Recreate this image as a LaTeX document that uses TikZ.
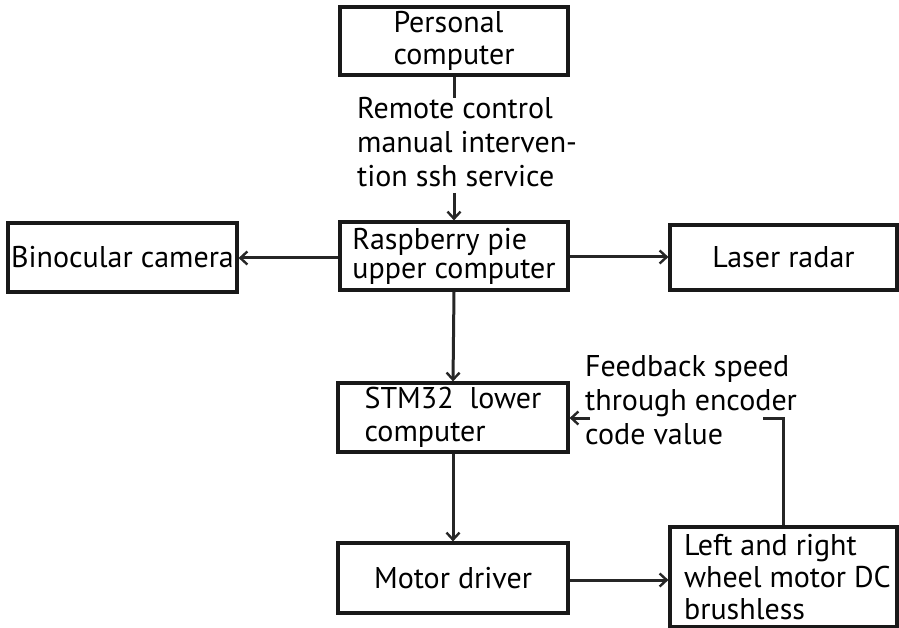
\documentclass[tikz,border=0pt]{standalone}
\usepackage{fontspec}
\setmainfont{PT Sans}
\usetikzlibrary{arrows.meta}
\begin{document}
\begin{tikzpicture}[x=1pt,y=-1pt,
  box/.style={draw=black!90, line width=3.2pt, rectangle, inner sep=0pt, align=left,
    font=\fontsize{30}{32}\selectfont, text=black},
  lbl/.style={inner sep=0pt, align=left, anchor=north west,
    font=\fontsize{30}{34}\selectfont, text=black},
  conn/.style={draw=black!85, line width=3pt},
  arr/.style={conn, -{Straight Barb[length=7pt,width=13pt,line width=2.4pt]}}]
\useasboundingbox (0,0) rectangle (899,628);
\fill[white] (0,0) rectangle (899,628);
% boxes
\node[box, minimum width=228pt, minimum height=68pt] (pc) at (454,41) {Personal\\computer};
\node[box, minimum width=228pt, minimum height=68pt, font=\fontsize{30}{29}\selectfont] (rpi) at (454,256) {Raspberry pie\\upper computer};
\node[box, minimum width=229pt, minimum height=69pt] (cam) at (122.5,257.5) {Binocular camera};
\node[box, minimum width=227pt, minimum height=65pt] (laser) at (783.5,257.5) {Laser radar};
\node[box, minimum width=230pt, minimum height=69pt, font=\fontsize{30}{33}\selectfont] (stm) at (453,417.5) {STM32\ \ lower\\computer};
\node[box, minimum width=230pt, minimum height=70pt] (md) at (453,578) {Motor driver};
\node[box, minimum width=227pt, minimum height=100pt] (lr) at (783.5,577) {\hspace*{8pt}Left and right\\\hspace*{8pt}wheel motor DC\\\hspace*{8pt}brushless};
% labels
\node[lbl] (remote) at (357,97) {Remote control\\manual interven-\\tion ssh service};
\node[lbl] (fb) at (585,355) {Feedback speed\\through encoder\\code value};
% coordinates for interrupted connectors
\coordinate (pcend) at (pc.south |- 0,98);
\coordinate (rpistart) at (rpi.north |- 0,193);
\coordinate (fbcorner) at (lr.north |- 0,418);
\coordinate (fbend) at (763,418);
\coordinate (fbstart) at (590,418);
% connectors
\draw[conn] (pc.south) -- (pcend);
\draw[arr] (rpistart) -- (rpi.north);
\draw[arr] (rpi.west |- 0,258) -- (cam.east |- 0,258);
\draw[arr] (rpi.east |- 0,257) -- (laser.west |- 0,257);
\draw[arr] (rpi.south) -- (stm.north);
\draw[arr] (stm.south) -- (md.north);
\draw[arr] (md.east |- 0,580) -- (lr.west |- 0,580);
\draw[conn] (lr.north) -- (fbcorner) -- (fbend);
\draw[arr] (fbstart) -- (stm.east |- fbstart);
\end{tikzpicture}
\end{document}
